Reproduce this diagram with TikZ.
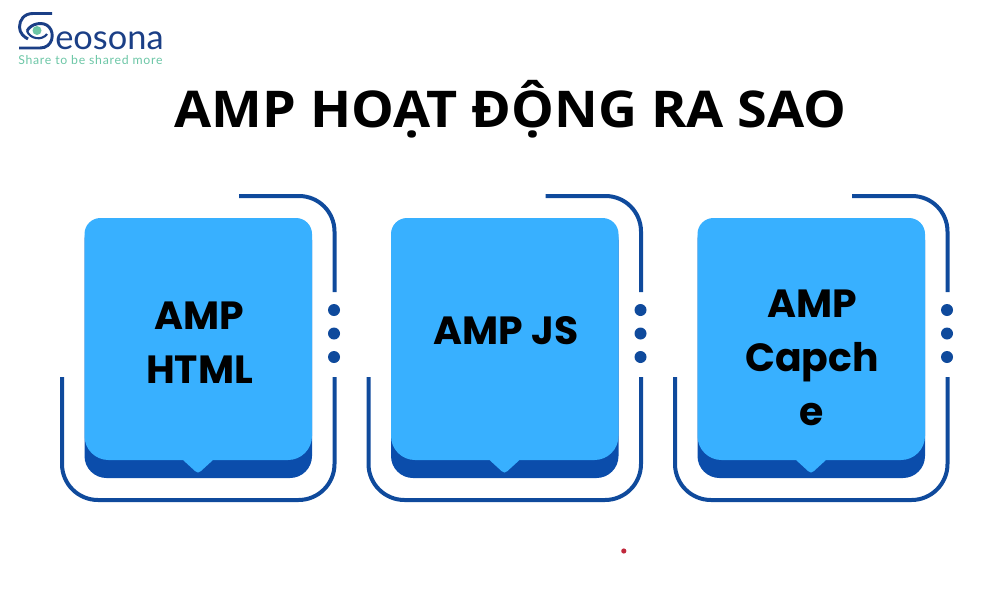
\documentclass[tikz,border=0pt]{standalone}
\usepackage{fontspec}
\setmainfont{Open Sans}
\newfontfamily\titlefont[FakeStretch=1.063]{Open Sans}
\newfontfamily\cardfont{Poppins}
\newfontfamily\logofont{Lato}
\newfontfamily\tagfont[LetterSpace=6]{Lato}
\definecolor{cardlight}{HTML}{38B0FF}
\definecolor{carddark}{HTML}{0B4DAB}
\definecolor{framecol}{HTML}{0F4A9C}
\definecolor{logoblue}{HTML}{1B3F86}
\definecolor{logogreen}{HTML}{6CC6A6}
\definecolor{specred}{HTML}{C0283C}
\tikzset{
  cardback/.style={fill=carddark},
  cardface/.style={fill=cardlight},
  cardframe/.style={draw=framecol,line width=3pt},
  carddot/.style={fill=framecol},
  cardtext/.style={font=\cardfont\fontsize{29.5}{40.5}\selectfont\bfseries,align=center,text=black,inner sep=0.75pt},
  logoline/.style={draw=logoblue,line width=2.2pt}
}
\begin{document}
\begin{tikzpicture}[x=0.75pt,y=0.75pt,yscale=-1,xscale=1]
\useasboundingbox (0,0) rectangle (1000,600);
% Logo
\draw[logoline] (52,13.5) -- (33,13.5) .. controls (24,13.5) and (19.5,20) .. (19.5,27) .. controls (19.5,33) and (24,37) .. (28,39);
\draw[logoline] (27,31) .. controls (31,23) and (44,21) .. (49,27) .. controls (55,33) and (53,48) .. (40,48) -- (19,48);
\draw[logoline,line width=1.6pt] (27,31) .. controls (30,39) and (42,41) .. (47,34);
\fill[logogreen] (37,30.5) circle [radius=4.5];
\draw (55,49) node [anchor=base west,inner sep=0pt,text=logoblue] (logoname) {\logofont\fontsize{25.8}{26}\selectfont eosona};
\draw (18,64) node [anchor=base west,inner sep=0pt,text=logogreen] (logotag) {\tagfont\fontsize{9.2}{10}\selectfont Share to be shared more};
% Title
\draw (510.5,109) node [inner sep=0.75pt] (title) {\titlefont\fontsize{38}{44}\selectfont\bfseries AMP HOẠT ĐỘNG RA SAO};
% Card 1
\fill[cardback] (84.5,240) arc [start angle=180,end angle=270,radius=22] -- (290,218) arc [start angle=-90,end angle=0,radius=22] -- (312,456) arc [start angle=0,end angle=90,radius=22] -- (106.5,478) arc [start angle=90,end angle=180,radius=22] -- cycle;
\fill[cardface] (84.5,234) arc [start angle=180,end angle=270,radius=16] -- (296,218) arc [start angle=-90,end angle=0,radius=16] -- (312,436) arc [start angle=0,end angle=90,radius=24] -- (213,460) -- (201,471) .. controls (199,473) and (197,473) .. (195,471) -- (183,460) -- (108.5,460) arc [start angle=90,end angle=180,radius=24] -- cycle;
\draw[cardframe] (239,196) -- (299,196) arc [start angle=-90,end angle=0,radius=35.5] -- (334.5,292);
\draw[cardframe] (334.5,377) -- (334.5,464) arc [start angle=0,end angle=90,radius=36] -- (98,500) arc [start angle=90,end angle=180,radius=36] -- (62,377);
\fill[carddot] (334,310) circle [radius=6];
\fill[carddot] (334,333.5) circle [radius=6];
\fill[carddot] (334,357) circle [radius=6];
\draw (199.5,343) node [cardtext] (cardhtml) {AMP\\HTML};
% Card 2
\fill[cardback] (391,240) arc [start angle=180,end angle=270,radius=22] -- (596.5,218) arc [start angle=-90,end angle=0,radius=22] -- (618.5,456) arc [start angle=0,end angle=90,radius=22] -- (413,478) arc [start angle=90,end angle=180,radius=22] -- cycle;
\fill[cardface] (391,234) arc [start angle=180,end angle=270,radius=16] -- (602.5,218) arc [start angle=-90,end angle=0,radius=16] -- (618.5,436) arc [start angle=0,end angle=90,radius=24] -- (519.5,460) -- (507.5,471) .. controls (505.5,473) and (503.5,473) .. (501.5,471) -- (489.5,460) -- (415,460) arc [start angle=90,end angle=180,radius=24] -- cycle;
\draw[cardframe] (545.5,196) -- (605.5,196) arc [start angle=-90,end angle=0,radius=35.5] -- (641,292);
\draw[cardframe] (641,377) -- (641,464) arc [start angle=0,end angle=90,radius=36] -- (404.5,500) arc [start angle=90,end angle=180,radius=36] -- (368.5,377);
\fill[carddot] (640.5,310) circle [radius=6];
\fill[carddot] (640.5,333.5) circle [radius=6];
\fill[carddot] (640.5,357) circle [radius=6];
\draw (506,331) node [cardtext] (cardjs) {AMP JS};
% Card 3
\fill[cardback] (697.5,240) arc [start angle=180,end angle=270,radius=22] -- (903,218) arc [start angle=-90,end angle=0,radius=22] -- (925,456) arc [start angle=0,end angle=90,radius=22] -- (719.5,478) arc [start angle=90,end angle=180,radius=22] -- cycle;
\fill[cardface] (697.5,234) arc [start angle=180,end angle=270,radius=16] -- (909,218) arc [start angle=-90,end angle=0,radius=16] -- (925,436) arc [start angle=0,end angle=90,radius=24] -- (826,460) -- (814,471) .. controls (812,473) and (810,473) .. (808,471) -- (796,460) -- (721.5,460) arc [start angle=90,end angle=180,radius=24] -- cycle;
\draw[cardframe] (852,196) -- (912,196) arc [start angle=-90,end angle=0,radius=35.5] -- (947.5,292);
\draw[cardframe] (947.5,377) -- (947.5,464) arc [start angle=0,end angle=90,radius=36] -- (711,500) arc [start angle=90,end angle=180,radius=36] -- (675,377);
\fill[carddot] (947,310) circle [radius=6];
\fill[carddot] (947,333.5) circle [radius=6];
\fill[carddot] (947,357) circle [radius=6];
\draw (812,358) node [cardtext] (cardcache) {AMP\\Capch\\e};
% Speck
\fill[specred] (623.8,551) circle [radius=2.6];
\end{tikzpicture}
\end{document}
